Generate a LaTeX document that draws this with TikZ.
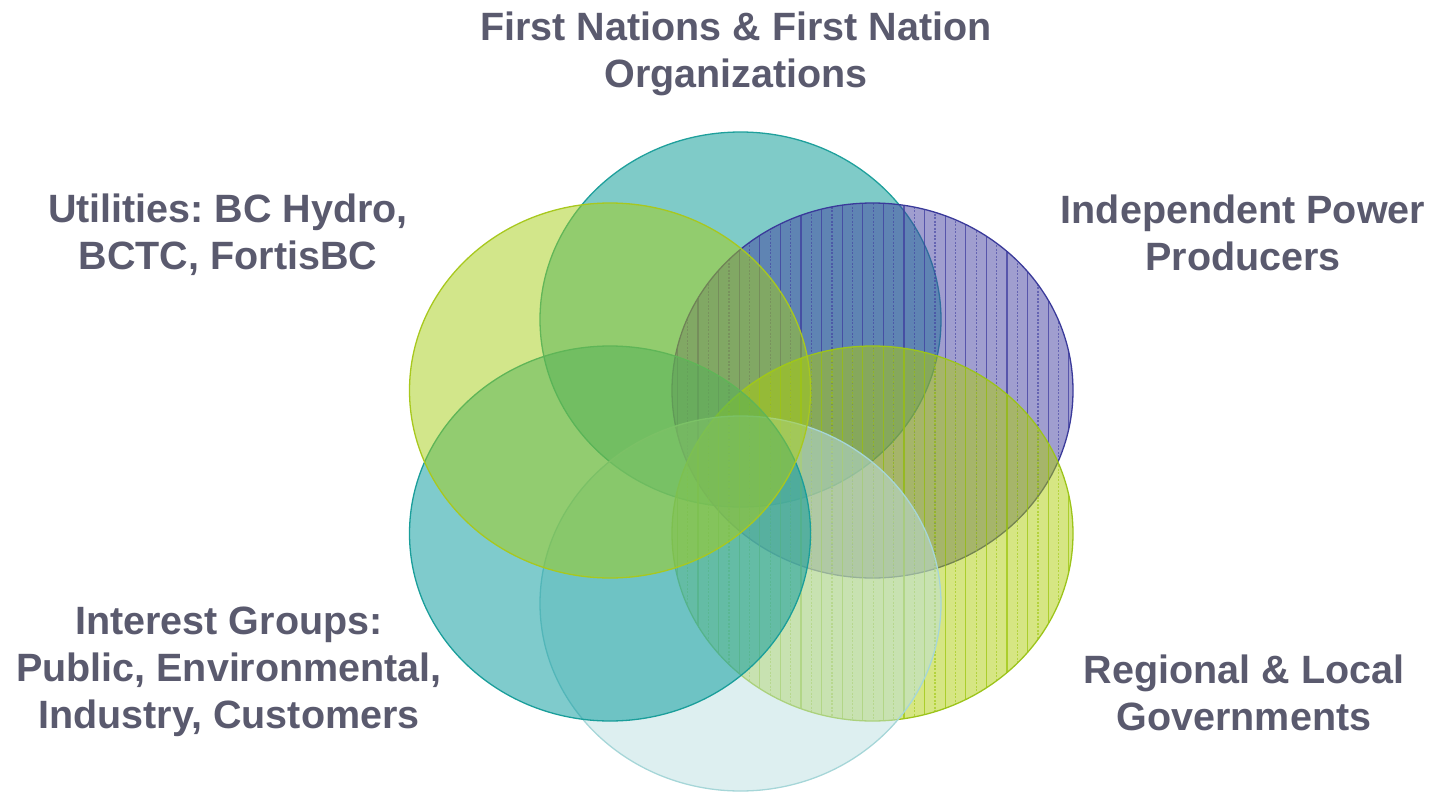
\documentclass[tikz,border=0pt]{standalone}
\usepackage{fontspec}
\setmainfont{Liberation Sans}
\frenchspacing
\usetikzlibrary{shapes.geometric}
\definecolor{lbl}{HTML}{5A5A6E}
\definecolor{fnfill}{HTML}{009791}
\definecolor{fnline}{HTML}{1FA09C}
\definecolor{utfill}{HTML}{A5CD15}
\definecolor{utline}{HTML}{A8C81E}
\definecolor{ipfill}{HTML}{413D9F}
\definecolor{ipline}{HTML}{3A3A9A}
\definecolor{ipstripe}{HTML}{3F3D9F}
\definecolor{rgfill}{HTML}{ADCD07}
\definecolor{rgline}{HTML}{9CC41A}
\definecolor{rgstripe}{HTML}{9DC710}
\definecolor{igfill}{HTML}{00979A}
\definecolor{igline}{HTML}{1A9E9A}
\definecolor{ltfill}{HTML}{BBDFE1}
\definecolor{ltline}{HTML}{A6D6D8}
\begin{document}
\begin{tikzpicture}[x=1pt,y=-1pt,
  venn/.style={ellipse, inner sep=0pt, minimum width=401pt, minimum height=375pt, line width=1.3pt, fill opacity=0.5},
  lab/.style={font=\bfseries\fontsize{39.5}{47}\selectfont, text=lbl, align=center, inner sep=0pt},
  stripes/.style={path picture={
    \foreach \k in {0,2,...,40}{\draw[#1, line width=1.2pt, draw opacity=0.75] ([xshift=\k*10.3pt+5.4pt]path picture bounding box.north west) -- ([xshift=\k*10.3pt+5.4pt]path picture bounding box.south west);}
    \foreach \k in {1,3,...,39}{\draw[#1, line width=1.2pt, draw opacity=0.6, dash pattern=on 2pt off 1.5pt] ([xshift=\k*10.3pt+5.4pt]path picture bounding box.north west) -- ([xshift=\k*10.3pt+5.4pt]path picture bounding box.south west);}
  }}
]
\useasboundingbox (0,0) rectangle (1433,792);
% ellipses, bottom to top
\node[venn, fill=fnfill, draw=fnline] (fn) at (740.5,319.5) {};
\node[venn, fill=ipfill, draw=ipline, stripes=ipstripe] (ipp) at (872.5,390.5) {};
\node[venn, fill=rgfill, draw=rgline, stripes=rgstripe] (rg) at (872.5,533.5) {};
\node[venn, fill=ltfill, draw=ltline] (lt) at (740.5,603.5) {};
\node[venn, fill=igfill, draw=igline] (ig) at (610,533.5) {};
\node[venn, fill=utfill, draw=utline] (ut) at (610,390.5) {};
% labels
\node[lab] (fnlab) at (736,54) {First Nations \& First Nation\\Organizations};
\node[lab] (utlab) at (228,235) {Utilities: BC Hydro,\\BCTC, FortisBC};
\node[lab] (iplab) at (1243,233) {Independent Power\\Producers};
\node[lab] (iglab) at (229,672) {Interest Groups:\\Public, Environmental,\\Industry, Customers};
\node[lab] (rglab) at (1244,693) {Regional \& Local\\Governments};
\end{tikzpicture}
\end{document}
